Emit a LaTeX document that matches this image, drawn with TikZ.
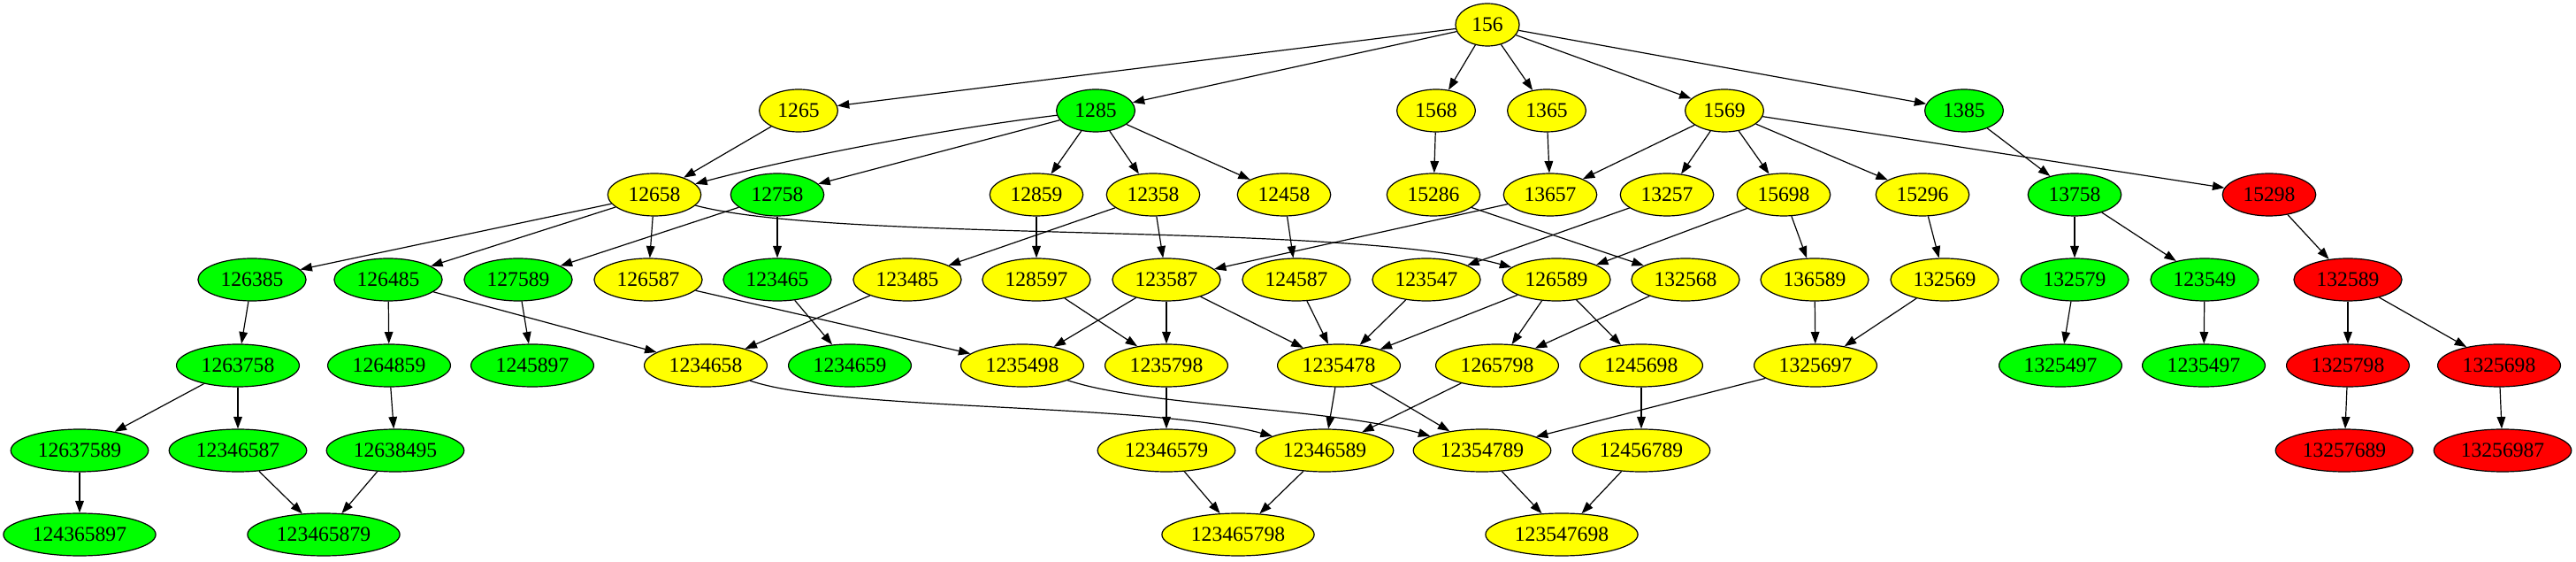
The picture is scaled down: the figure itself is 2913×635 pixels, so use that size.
\documentclass[tikz,border=0pt]{standalone}
\usepackage{fontspec}
\setmainfont{Liberation Serif}
\usetikzlibrary{arrows.meta,shapes.geometric}
\definecolor{gvyellow}{RGB}{255,255,0}
\definecolor{gvgreen}{RGB}{0,255,0}
\definecolor{gvred}{RGB}{255,0,0}
\begin{document}
\begin{tikzpicture}[x=0.5pt,y=-0.5pt,
  nd/.style={ellipse, draw=black, line width=0.6pt, minimum width=36pt, minimum height=24pt,
    inner xsep=3.9pt, inner ysep=2pt, font=\fontsize{11.8pt}{14pt}\selectfont},
  yel/.style={nd, fill=gvyellow},
  grn/.style={nd, fill=gvgreen},
  rd/.style={nd, fill=gvred},
  edge/.style={-{Triangle[length=6.7pt,width=4.8pt]}, line width=0.6pt}]
\useasboundingbox (0,0) rectangle (2913,635);
% row 0
\node[yel] (n156) at (1682,28) {156};
% row 1
\foreach \x/\l/\s in {903/1265/yel, 1239/1285/grn, 1624/1568/yel, 1749/1365/yel, 1950/1569/yel, 2221/1385/grn}
  \node[\s] (n\l) at (\x,125) {\l};
% row 2
\foreach \x/\l/\s in {740/12658/yel, 879/12758/grn, 1172/12859/yel, 1304/12358/yel, 1452/12458/yel,
  1621/15286/yel, 1753/13657/yel, 1885/13257/yel, 2017/15698/yel, 2174/15296/yel, 2346/13758/grn, 2566/15298/rd}
  \node[\s] (n\l) at (\x,220) {\l};
% row 3
\foreach \x/\l/\s in {285/126385/grn, 439/126485/grn, 586/127589/grn, 733/126587/yel, 879/123465/grn,
  1026/123485/yel, 1172/128597/yel, 1319/123587/yel, 1466/124587/yel, 1613/123547/yel, 1760/126589/yel,
  1906/132568/yel, 2052/136589/yel, 2199/132569/yel, 2346/132579/grn, 2493/123549/grn, 2655/132589/rd}
  \node[\s] (n\l) at (\x,316) {\l};
% row 4
\foreach \x/\l/\s in {269/1263758/grn, 440/1264859/grn, 602/1245897/grn, 798/1234658/yel, 961/1234659/grn,
  1156/1235498/yel, 1319/1235798/yel, 1514/1235478/yel, 1693/1265798/yel, 1856/1245698/yel, 2053/1325697/yel,
  2330/1325497/grn, 2492/1235497/grn, 2655/1325798/rd, 2826/1325698/rd}
  \node[\s] (n\l) at (\x,413) {\l};
% row 5
\foreach \x/\l/\s in {90/12637589/grn, 269/12346587/grn, 447/12638495/grn, 1319/12346579/yel,
  1498/12346589/yel, 1676/12354789/yel, 1856/12456789/yel, 2651/13257689/rd, 2830/13256987/rd}
  \node[\s] (n\l) at (\x,509) {\l};
% row 6
\foreach \x/\l/\s in {90/124365897/grn, 366/123465879/grn, 1400/123465798/yel, 1766/123547698/yel}
  \node[\s] (n\l) at (\x,604) {\l};
% straight edges
\foreach \a/\b in {156/1265, 156/1285, 156/1568, 156/1365, 156/1569, 156/1385,
  1265/12658, 1285/12758, 1285/12859, 1285/12358, 1285/12458,
  1568/15286, 1365/13657, 1569/13657, 1569/13257, 1569/15698, 1569/15296, 1569/15298,
  1385/13758,
  12658/126385, 12658/126485, 12658/126587,
  12758/127589, 12758/123465, 12859/128597, 12358/123485, 12358/123587, 12458/124587,
  15286/132568, 13657/123587, 13257/123547, 15698/126589, 15698/136589, 15296/132569,
  13758/132579, 13758/123549, 15298/132589,
  126385/1263758, 126485/1264859, 126485/1234658, 127589/1245897, 126587/1235498,
  123465/1234659, 123485/1234658, 128597/1235798, 123587/1235498, 123587/1235798,
  123587/1235478, 124587/1235478, 123547/1235478, 126589/1235478, 126589/1265798,
  126589/1245698, 132568/1265798, 136589/1325697, 132569/1325697, 132579/1325497,
  123549/1235497, 132589/1325798, 132589/1325698,
  1263758/12637589, 1263758/12346587, 1264859/12638495, 1235798/12346579,
  1235478/12346589, 1235478/12354789, 1265798/12346589, 1245698/12456789,
  1325697/12354789, 1325798/13257689, 1325698/13256987,
  12637589/124365897, 12346587/123465879, 12638495/123465879, 12346579/123465798,
  12346589/123465798, 12354789/123547698, 12456789/123547698}
  \draw[edge] (n\a) -- (n\b);
% curved edges
\draw[edge] (n1285) .. controls (1073,145) and (906,176) .. (n12658);
\draw[edge] (n12658) .. controls (950,275) and (1520,250) .. (n126589);
\draw[edge] (n1234658) .. controls (950,465) and (1300,455) .. (n12346589);
\draw[edge] (n1235498) .. controls (1300,460) and (1500,460) .. (n12354789);
\end{tikzpicture}
\end{document}
